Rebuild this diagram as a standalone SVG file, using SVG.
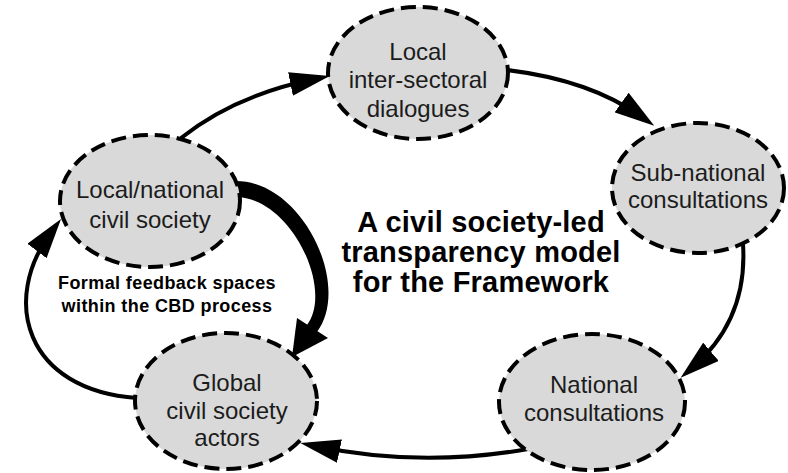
<svg xmlns="http://www.w3.org/2000/svg" width="788" height="473" viewBox="0 0 788 473">
  <defs>
    <marker id="head" viewBox="0 0 40 24" refX="25" refY="12" markerWidth="40" markerHeight="24" markerUnits="userSpaceOnUse" orient="auto">
      <path d="M0,0 L40,12 L0,24 Z" fill="#000"/>
    </marker>
  </defs>
  <style>
    .node ellipse { fill: #d9d9d9; stroke: #000; stroke-width: 4; stroke-dasharray: 15 7; }
    .node text { font-family: "Liberation Sans", Arial, sans-serif; font-size: 24px; fill: #1c1c1c; text-anchor: middle; }
    .link { fill: none; stroke: #000; stroke-width: 4; marker-end: url(#head); }
    .title { font-family: "Liberation Sans", Arial, sans-serif; font-weight: bold; font-size: 29px; letter-spacing: 0.2px; fill: #000; text-anchor: middle; }
    .note { font-family: "Liberation Sans", Arial, sans-serif; font-weight: bold; font-size: 18px; letter-spacing: 0.4px; fill: #000; text-anchor: middle; }
  </style>
  <rect width="788" height="473" fill="#fff"/>

  <!-- connectors -->
  <g id="connectors">
    <path class="link" d="M181,138 Q235,95 315,79"/>
    <path class="link" d="M507,70 Q590,80 642,117"/>
    <path class="link" d="M743,244 Q748,320 692,368"/>
    <path class="link" d="M528,449 Q420,468 315,446"/>
    <path class="link" d="M137,398 C25,390 0,300 52,231"/>
    <!-- tapered feedback arrow -->
    <path d="M236,181 C302,181 352,285 317,332 L307,325 C334,289 291,198 236,197 Z" fill="#000"/>
    <path d="M292,357 L297,318 L328,338 Z" fill="#000"/>
  </g>

  <g id="local-dialogues" class="node">
    <ellipse cx="418" cy="73" rx="90" ry="66"/>
    <text x="418" y="60">Local</text>
    <text x="418" y="88">inter-sectoral</text>
    <text x="418" y="117">dialogues</text>
  </g>

  <g id="subnational" class="node">
    <ellipse cx="698" cy="188" rx="86" ry="65"/>
    <text x="698" y="181">Sub-national</text>
    <text x="698" y="208">consultations</text>
  </g>

  <g id="national" class="node">
    <ellipse cx="592" cy="402" rx="93" ry="68"/>
    <text x="594" y="393">National</text>
    <text x="594" y="421">consultations</text>
  </g>

  <g id="global" class="node">
    <ellipse cx="226" cy="401" rx="91" ry="68"/>
    <text x="227" y="391">Global</text>
    <text x="227" y="419">civil society</text>
    <text x="227" y="446">actors</text>
  </g>

  <g id="local-national" class="node">
    <ellipse cx="150" cy="201" rx="90" ry="66"/>
    <text x="150" y="198">Local/national</text>
    <text x="150" y="228">civil society</text>
  </g>

  <g id="title">
    <text class="title" x="481" y="232">A civil society-led</text>
    <text class="title" x="481" y="262">transparency model</text>
    <text class="title" x="481" y="292">for the Framework</text>
  </g>

  <g id="feedback-label">
    <text class="note" x="167" y="289">Formal feedback spaces</text>
    <text class="note" x="167" y="312">within the CBD process</text>
  </g>
</svg>
